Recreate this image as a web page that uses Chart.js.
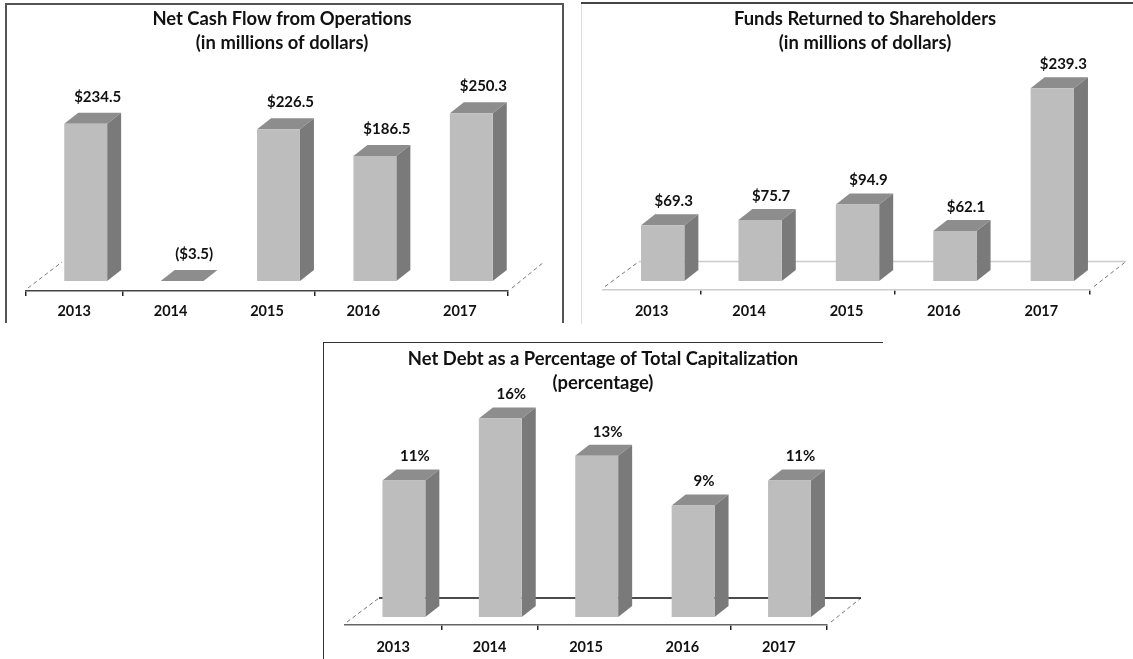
<!DOCTYPE html>
<html>
<head>
<meta charset="utf-8">
<title>Financial charts</title>
<script src="https://cdn.jsdelivr.net/npm/chart.js@4"></script>
<style>
html, body { margin: 0; padding: 0; background: #fff; }
body { position: relative; width: 1133px; height: 659px; overflow: hidden; }
canvas, .frame { position: absolute; box-sizing: border-box; }
canvas { filter: blur(0.5px); }
.frame { border-style: solid; border-width: 0; z-index: 2; pointer-events: none; }
</style>
</head>
<body>
<div class="frame" style="left:5px;top:3px;width:559px;height:320px;border-color:#555;border-width:2px 2px 0 2px"></div>
<div class="frame" style="left:581px;top:2px;width:552px;height:2px;background:#444"></div>
<div class="frame" style="left:581px;top:4px;width:1px;height:320px;background:#ddd"></div>
<div class="frame" style="left:323px;top:342px;width:560px;height:317px;border-color:#333;border-width:1px 0 0 1px"></div>

<canvas id="cashChart" width="555" height="317" style="left:7px;top:5px"></canvas>
<canvas id="fundsChart" width="551" height="319" style="left:582px;top:3px"></canvas>
<canvas id="debtChart" width="558" height="316" style="left:325px;top:343px"></canvas>

<script>
const years = ['2013', '2014', '2015', '2016', '2017'];
const cashFlow = [234.5, -3.5, 226.5, 186.5, 250.3];
const fundsReturned = [69.3, 75.7, 94.9, 62.1, 239.3];
const netDebt = [11, 16, 13, 9, 11];

const dollars = v => v < 0 ? '($' + Math.abs(v).toFixed(1) + ')' : '$' + v.toFixed(1);
const percent = v => v + '%';

// draws the fake 3d: floor, bar sides and tops, value labels
const bars3d = {
    id: 'bars3d',
    afterLayout(chart, args, o) {
        // title is centred on its own point, not on the plot
        chart.titleBlock.left = o.titleX - 230;
        chart.titleBlock.right = o.titleX + 230;
    },
    beforeDatasetsDraw(chart, args, o) {
        const ctx = chart.ctx, area = chart.chartArea;
        ctx.save();
        ctx.lineWidth = 1;
        ctx.strokeStyle = '#777';
        ctx.setLineDash([4, 3]);
        ctx.beginPath();
        ctx.moveTo(area.left + 2, area.bottom - 3);
        ctx.lineTo(area.left + o.floorX, area.bottom - o.floorY);
        ctx.moveTo(area.right + 4, area.bottom - 3);
        ctx.lineTo(area.right + o.floorX, area.bottom - o.floorY);
        ctx.stroke();
        ctx.setLineDash([]);
        if (o.backColor) {
            ctx.strokeStyle = o.backColor;
            ctx.lineWidth = o.backWidth;
            ctx.beginPath();
            ctx.moveTo(area.left + o.floorX, area.bottom - o.floorY);
            ctx.lineTo(area.right + o.floorX, area.bottom - o.floorY);
            ctx.stroke();
        }
        ctx.translate(o.shiftX, -o.shiftY);
        chart.getDatasetMeta(0).data.forEach(bar => {
            const l = bar.x - bar.width / 2, r = bar.x + bar.width / 2;
            const top = Math.min(bar.y, bar.base);
            ctx.fillStyle = '#8d8d8d';
            ctx.beginPath();
            ctx.moveTo(l, top);
            ctx.lineTo(l + o.depthX, top - o.depthY);
            ctx.lineTo(r + o.depthX, top - o.depthY);
            ctx.lineTo(r, top);
            ctx.fill();
            if (bar.base - top > 0) {
                ctx.fillStyle = '#7a7a7a';
                ctx.beginPath();
                ctx.moveTo(r, top);
                ctx.lineTo(r + o.depthX, top - o.depthY);
                ctx.lineTo(r + o.depthX, bar.base - o.depthY);
                ctx.lineTo(r, bar.base);
                ctx.fill();
            }
        });
    },
    afterDatasetsDraw(chart, args, o) {
        const ctx = chart.ctx;
        ctx.fillStyle = '#111';
        ctx.font = 'bold 15px Lato';
        ctx.textAlign = 'center';
        ctx.textBaseline = 'middle';
        const values = chart.data.datasets[0].data;
        chart.getDatasetMeta(0).data.forEach((bar, i) => {
            const top = Math.min(bar.y, bar.base);
            ctx.fillText(o.format(values[i]), bar.x + o.labelX, top - o.labelY);
        });
        ctx.restore();
    }
};

function makeChart(id, titleLines, values, s) {
    return new Chart(document.getElementById(id), {
        type: 'bar',
        data: {
            labels: years,
            datasets: [{
                data: values,
                backgroundColor: '#bdbdbd',
                barPercentage: 1,
                categoryPercentage: 0.445,
                clip: { left: false, top: false, right: false, bottom: 0 }
            }]
        },
        options: {
            responsive: false,
            animation: false,
            events: [],
            layout: { padding: { left: s.left, right: s.right, top: 0, bottom: 0 } },
            plugins: {
                legend: { display: false },
                tooltip: { enabled: false },
                title: {
                    display: true,
                    text: titleLines,
                    color: '#111',
                    font: { family: 'Lato', size: 18.4, weight: 'bold', lineHeight: 1.304 },
                    padding: { top: s.titleTop, bottom: 0 }
                },
                bars3d: s
            },
            scales: {
                x: {
                    afterFit: scale => { scale.height = s.axisHeight; },
                    border: { color: s.axisColor, width: 1.5 },
                    grid: {
                        drawOnChartArea: false,
                        tickLength: 5,
                        lineWidth: 1.5,
                        tickColor: c => (c.index === undefined || s.ticksShown.includes(c.index)) ? '#222' : 'transparent'
                    },
                    ticks: { color: '#111', padding: s.tickPad, font: { family: 'Lato', size: 14.5, weight: 'bold' } }
                },
                y: { display: false, min: 0, max: s.yMax }
            }
        },
        plugins: [bars3d]
    });
}

makeChart('cashChart', ['Net Cash Flow from Operations', '(in millions of dollars)'], cashFlow, {
    left: 19, right: 54, axisHeight: 31, titleTop: 2, yMax: 352, titleX: 275, tickPad: 7,
    axisColor: '#444', ticksShown: [0, 1, 3], backColor: null, backWidth: 0,
    floorX: 36, floorY: 29, shiftX: 11.5, shiftY: 10, depthX: 14, depthY: 11,
    labelX: 12, labelY: 27, format: dollars
});

makeChart('fundsChart', ['Funds Returned to Shareholders', '(in millions of dollars)'], fundsReturned, {
    left: 21, right: 43, axisHeight: 32.5, titleTop: 4, yMax: 291, titleX: 283, tickPad: 8,
    axisColor: '#ccc', ticksShown: [1, 3], backColor: '#ccc', backWidth: 1.5,
    floorX: 36, floorY: 28, shiftX: 11, shiftY: 8.5, depthX: 14, depthY: 11,
    labelX: 11, labelY: 24, format: dollars
});

makeChart('debtChart', ['Net Debt as a Percentage of Total Capitalization', '(percentage)'], netDebt, {
    left: 20, right: 56, axisHeight: 34, titleTop: 4, yMax: 18.55, titleX: 278, tickPad: 9,
    axisColor: '#666', ticksShown: [1, 2, 4], backColor: '#111', backWidth: 1.5,
    floorX: 34, floorY: 27, shiftX: 10.7, shiftY: 8, depthX: 14, depthY: 11,
    labelX: 11, labelY: 24, format: percent
});
</script>
</body>
</html>
